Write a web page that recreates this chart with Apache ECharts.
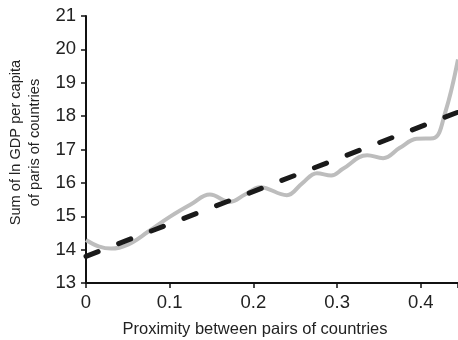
<!DOCTYPE html>
<html><head><meta charset="utf-8">
<script src="https://cdn.jsdelivr.net/npm/echarts@6/dist/echarts.min.js"></script>
<style>html,body{margin:0;padding:0;background:#fff}#c{width:458px;height:340px}</style>
</head><body><div id="c"></div>
<script>
var curveX = [0, 0.015, 0.03, 0.05, 0.075, 0.1, 0.125, 0.148, 0.172, 0.19, 0.208, 0.24, 0.258, 0.276, 0.293, 0.307, 0.336, 0.355, 0.375, 0.395, 0.415, 0.429, 0.4445];
var curveY = [14.29, 14.1, 14.03, 14.15, 14.55, 14.98, 15.35, 15.65, 15.43, 15.65, 15.87, 15.63, 15.98, 16.29, 16.22, 16.42, 16.83, 16.74, 17.05, 17.32, 17.34, 18.09, 19.7];
var trendX = [0, 0.4445];
var trendY = [13.8, 18.12];
var xTicks = [0, 0.1, 0.2, 0.3, 0.4];
var yTicks = [13, 14, 15, 16, 17, 18, 19, 20, 21];
var xTitle = 'Proximity between pairs of countries';
var yTitle = 'Sum of ln GDP per capita\nof paris of countries';

function pairs(xs, ys){ return xs.map(function(x,i){return [x, ys[i]];}); }
var chart = echarts.init(document.getElementById('c'), null, {renderer:'canvas'});
var font = 'Liberation Sans, Arial, Helvetica, sans-serif';
chart.setOption({
  animation: false,
  grid: {left: 86, right: 0, top: 16, bottom: 57, containLabel: false, outerBoundsMode: 'none'},
  xAxis: {
    type: 'value', min: 0, max: 0.4445, interval: 0.1,
    name: xTitle, nameLocation: 'middle', nameGap: 38,
    nameTextStyle: {fontFamily: font, fontSize: 16.5, color: '#222', padding: [0, 34, 0, 0]},
    axisLine: {show: true, lineStyle: {color: '#111', width: 2}},
    axisTick: {show: true, inside: false, length: 5, lineStyle: {color: '#111', width: 1.5}},
    axisLabel: {fontFamily: font, fontSize: 18.5, color: '#222', margin: 10,
      formatter: function(v){ for (var i=0;i<xTicks.length;i++){ if (Math.abs(v-xTicks[i])<1e-6) return String(xTicks[i]); } return ''; }},
    splitLine: {show: false}
  },
  yAxis: {
    type: 'value', min: yTicks[0], max: yTicks[yTicks.length-1], interval: 1,
    name: yTitle, nameLocation: 'middle', nameGap: 41,
    nameTextStyle: {fontFamily: font, fontSize: 14.6, color: '#222', lineHeight: 19, padding: [0, 0, 0, 14]},
    axisLine: {show: true, lineStyle: {color: '#111', width: 2}},
    axisTick: {show: true, inside: false, length: 5, lineStyle: {color: '#111', width: 1.5}},
    axisLabel: {fontFamily: font, fontSize: 18.5, color: '#222', margin: 10},
    splitLine: {show: false}
  },
  series: [
    {type: 'line', data: pairs(curveX, curveY), smooth: 0.4, showSymbol: false,
     lineStyle: {color: '#bdbdbd', width: 4}, z: 2},
    {type: 'line', data: pairs(trendX, trendY), showSymbol: false,
     lineStyle: {color: '#1a1a1a', width: 5, type: [13, 22], cap: 'round'}, z: 3}
  ]
});
</script></body></html>
